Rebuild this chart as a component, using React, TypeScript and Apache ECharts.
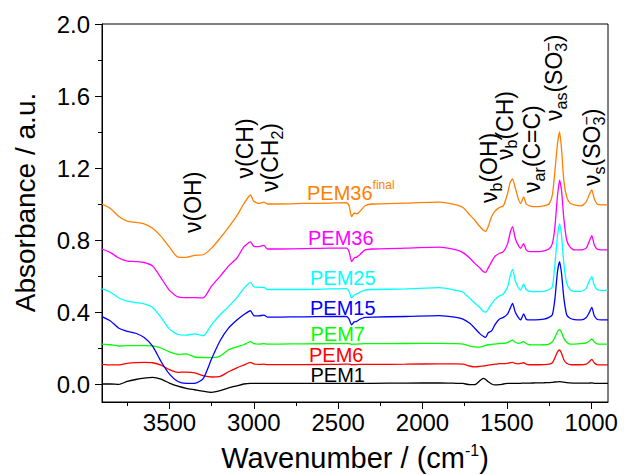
import React, { useEffect, useRef } from 'react';
import * as echarts from 'echarts';

// ---------- data ----------
const WAVENUMBERS = [
  3900, 3850, 3800, 3750, 3700, 3650, 3600, 3550, 3500, 3450, 3400, 3350, 3300, 3250, 3200, 3150, 3100, 3060, 3020, 3000,
  2970, 2940, 2920, 2850, 2700, 2550, 2450, 2435, 2420, 2405, 2390, 2370, 2340, 2300, 2100, 1900, 1800, 1760, 1720, 1690,
  1660, 1640, 1625, 1610, 1590, 1570, 1545, 1520, 1495, 1480, 1466, 1450, 1432, 1418, 1400, 1385, 1365, 1330, 1280, 1250,
  1230, 1215, 1200, 1187, 1175, 1162, 1145, 1125, 1100, 1060, 1030, 1012, 996, 982, 965, 940, 900,
];

const PEM36_FINAL = [
  1.0, 0.975, 0.93, 0.905, 0.898, 0.89, 0.865, 0.82, 0.76, 0.705, 0.704, 0.715, 0.718, 0.755, 0.81, 0.87, 0.935, 1.0, 1.05, 1.015,
  1.003, 1.01, 1.0, 1.0, 1.003, 1.005, 1.007, 0.99, 0.93, 0.95, 0.945, 0.96, 0.99, 1.0, 1.005, 1.01, 0.995, 0.98, 0.94, 0.91,
  0.875, 0.855, 0.848, 0.875, 0.93, 0.96, 0.98, 0.99, 1.06, 1.12, 1.14, 1.09, 1.03, 1.003, 1.04, 1.0, 0.99, 0.985, 0.99, 1.0,
  1.05, 1.18, 1.33, 1.4, 1.3, 1.13, 1.04, 1.005, 0.995, 0.99, 1.01, 1.05, 1.078, 1.03, 1.0, 0.995, 0.995,
];
const PEM36 = [
  0.75, 0.73, 0.7, 0.683, 0.68, 0.675, 0.655, 0.59, 0.52, 0.484, 0.48, 0.48, 0.478, 0.545, 0.598, 0.655, 0.7, 0.76, 0.79, 0.765,
  0.763, 0.77, 0.75, 0.75, 0.752, 0.755, 0.755, 0.735, 0.68, 0.7, 0.705, 0.72, 0.745, 0.75, 0.755, 0.76, 0.745, 0.73, 0.7, 0.67,
  0.645, 0.625, 0.62, 0.645, 0.68, 0.71, 0.725, 0.735, 0.78, 0.84, 0.874, 0.81, 0.77, 0.754, 0.78, 0.745, 0.735, 0.735, 0.74, 0.75,
  0.78, 0.87, 1.04, 1.133, 1.07, 0.92, 0.8, 0.76, 0.745, 0.745, 0.755, 0.79, 0.824, 0.775, 0.75, 0.745, 0.745,
];
const PEM25 = [
  0.528, 0.51, 0.478, 0.46, 0.452, 0.445, 0.425, 0.37, 0.305, 0.275, 0.272, 0.278, 0.268, 0.33, 0.385, 0.43, 0.48, 0.53, 0.565, 0.54,
  0.537, 0.537, 0.525, 0.525, 0.525, 0.528, 0.53, 0.515, 0.478, 0.495, 0.5, 0.51, 0.522, 0.525, 0.528, 0.535, 0.52, 0.51, 0.476, 0.45,
  0.425, 0.405, 0.398, 0.415, 0.445, 0.47, 0.488, 0.5, 0.54, 0.6, 0.637, 0.575, 0.535, 0.522, 0.555, 0.525, 0.515, 0.513, 0.515, 0.525,
  0.54, 0.66, 0.82, 0.89, 0.82, 0.67, 0.56, 0.525, 0.515, 0.515, 0.53, 0.57, 0.596, 0.55, 0.525, 0.52, 0.52,
];
const PEM15 = [
  0.374, 0.35, 0.31, 0.293, 0.282, 0.258, 0.21, 0.125, 0.055, 0.014, 0.004, 0.004, 0.03, 0.14, 0.24, 0.31, 0.355, 0.385, 0.407, 0.38,
  0.378, 0.383, 0.372, 0.372, 0.373, 0.375, 0.375, 0.36, 0.328, 0.345, 0.348, 0.36, 0.37, 0.372, 0.375, 0.38, 0.37, 0.36, 0.337, 0.31,
  0.28, 0.265, 0.259, 0.285, 0.295, 0.33, 0.36, 0.37, 0.39, 0.42, 0.448, 0.4, 0.37, 0.356, 0.39, 0.36, 0.356, 0.356, 0.36, 0.37,
  0.385, 0.47, 0.62, 0.68, 0.61, 0.48, 0.385, 0.365, 0.358, 0.356, 0.368, 0.395, 0.426, 0.38, 0.36, 0.356, 0.356,
];
const PEM7 = [
  0.222, 0.218, 0.211, 0.213, 0.213, 0.213, 0.212, 0.2, 0.178, 0.165, 0.167, 0.15, 0.147, 0.146, 0.155, 0.19, 0.206, 0.218, 0.235, 0.225,
  0.222, 0.224, 0.222, 0.222, 0.223, 0.224, 0.225, 0.224, 0.22, 0.222, 0.222, 0.223, 0.224, 0.224, 0.225, 0.226, 0.224, 0.222, 0.211, 0.206,
  0.205, 0.21, 0.215, 0.218, 0.22, 0.222, 0.225, 0.226, 0.23, 0.238, 0.244, 0.232, 0.226, 0.228, 0.235, 0.225, 0.218, 0.217, 0.218, 0.222,
  0.235, 0.258, 0.29, 0.304, 0.285, 0.255, 0.232, 0.222, 0.222, 0.224, 0.228, 0.238, 0.25, 0.235, 0.223, 0.221, 0.221,
];
const PEM6 = [
  0.109, 0.106, 0.106, 0.115, 0.119, 0.12, 0.118, 0.105, 0.08, 0.065, 0.066, 0.062, 0.046, 0.039, 0.042, 0.068, 0.09, 0.105, 0.12, 0.112,
  0.109, 0.11, 0.108, 0.108, 0.108, 0.109, 0.11, 0.11, 0.107, 0.108, 0.108, 0.109, 0.109, 0.109, 0.11, 0.112, 0.112, 0.11, 0.1, 0.095,
  0.098, 0.1, 0.102, 0.105, 0.108, 0.11, 0.113, 0.113, 0.115, 0.118, 0.12, 0.114, 0.112, 0.114, 0.118, 0.11, 0.107, 0.107, 0.108, 0.11,
  0.118, 0.145, 0.178, 0.189, 0.17, 0.135, 0.115, 0.108, 0.107, 0.107, 0.11, 0.122, 0.137, 0.118, 0.108, 0.106, 0.106,
];
const PEM1 = [
  0.0, 0.0, -0.002, 0.014, 0.025, 0.033, 0.037, 0.027, 0.005, -0.012, -0.024, -0.032, -0.04, -0.046, -0.037, -0.022, -0.01, 0.0, 0.004, 0.004,
  0.004, 0.004, 0.004, 0.004, 0.004, 0.004, 0.004, 0.004, 0.004, 0.004, 0.004, 0.004, 0.004, 0.004, 0.005, 0.006, 0.004, 0.003, -0.004, -0.004,
  0.018, 0.031, 0.025, 0.012, 0.0, -0.005, -0.004, 0.0, 0.003, 0.004, 0.004, 0.004, 0.004, 0.004, 0.005, 0.005, 0.005, 0.006, 0.007, 0.008,
  0.009, 0.011, 0.012, 0.013, 0.012, 0.01, 0.008, 0.006, 0.005, 0.005, 0.005, 0.005, 0.006, 0.004, 0.003, 0.003, 0.003,
];

const SERIES_NAMES = ['PEM1', 'PEM6', 'PEM7', 'PEM15', 'PEM25', 'PEM36', 'PEM36final'];
const SERIES_VALUES = [PEM1, PEM6, PEM7, PEM15, PEM25, PEM36, PEM36_FINAL];
const SERIES_COLORS = ['#000000', '#ff0000', '#00ff00', '#0000ff', '#00ffff', '#ff00ff', '#ff8000'];

const X_TICKS = [1000, 1500, 2000, 2500, 3000, 3500];
const X_MINOR_TICKS = [1250, 1750, 2250, 2750, 3250, 3750];
const Y_TICKS = [0, 0.4, 0.8, 1.2, 1.6, 2.0];
const Y_MINOR_TICKS = [0.2, 0.6, 1.0, 1.4, 1.8];

const X_TITLE = ['Wavenumber / (cm', '-1', ')'];
const Y_TITLE = 'Absorbance / a.u.';

// ---------- text helpers ----------
const FONT = '"Liberation Sans", Arial, Helvetica, sans-serif';
let measureCtx: CanvasRenderingContext2D | null = null;
function measure(t: string, fs: number): number {
  if (!measureCtx) measureCtx = document.createElement('canvas').getContext('2d');
  if (!measureCtx) return t.length * fs * 0.55;
  measureCtx.font = `${fs}px ${FONT}`;
  return measureCtx.measureText(t).width;
}

type Piece = { t: string; fs: number; dy: number; stack?: boolean };

function buildPieces(pieces: Piece[], color: string) {
  let x = 0;
  let stackW = 0;
  const children: any[] = [];
  for (const p of pieces) {
    const w = measure(p.t, p.fs);
    children.push({
      type: 'text',
      x,
      y: p.dy - 0.3465 * p.fs,
      silent: true,
      style: {
        text: p.t,
        fill: color,
        fontSize: p.fs,
        fontFamily: FONT,
        align: 'left',
        verticalAlign: 'middle',
        textAlign: 'left',
        textVerticalAlign: 'middle',
      },
    });
    if (p.stack) {
      stackW = Math.max(stackW, w);
    } else {
      x += Math.max(w, stackW);
      stackW = 0;
    }
  }
  return { children, width: x };
}

const AF = 23; // annotation font size
const SF = 16; // subscript font size
const main = (t: string): Piece => ({ t, fs: AF, dy: 0 });
const sub = (t: string, stack = false): Piece => ({ t, fs: SF, dy: 5, stack });
const sup = (t: string): Piece => ({ t, fs: SF, dy: -8 });

const ANNOTATIONS: { bx: number; sy: number; pieces: Piece[] }[] = [
  { bx: 200.5, sy: 233, pieces: [main('ν(OH)')] },
  { bx: 252.5, sy: 178.5, pieces: [main('ν(CH)')] },
  { bx: 278, sy: 192, pieces: [main('ν(CH'), sub('2'), main(')')] },
  { bx: 497, sy: 203, pieces: [main('ν'), sub('b'), main('(OH)')] },
  { bx: 512.5, sy: 160, pieces: [main('ν'), sub('b'), main('(CH)')] },
  { bx: 540, sy: 193, pieces: [main('ν'), sub('ar'), main('(C=C)')] },
  { bx: 562, sy: 121, pieces: [main('ν'), sub('as'), main('(SO'), sub('3', true), sup('−'), main(')')] },
  { bx: 600, sy: 186, pieces: [main('ν'), sub('s'), main('(SO'), sub('3', true), sup('−'), main(')')] },
];

const LABEL_POS: { x: number; y: number }[] = [
  { x: 310.5, y: 381.5 },
  { x: 309, y: 361.5 },
  { x: 310.5, y: 340.5 },
  { x: 310, y: 315 },
  { x: 310, y: 284.5 },
  { x: 308, y: 244.5 },
  { x: 307, y: 200 },
];

function buildGraphics() {
  const g: any[] = [];
  SERIES_NAMES.forEach((name, i) => {
    const color = SERIES_COLORS[i];
    const pieces: Piece[] =
      name === 'PEM36final'
        ? [{ t: 'PEM36', fs: 20, dy: 0 }, { t: 'final', fs: 12, dy: -11 }]
        : [{ t: name, fs: 20, dy: 0 }];
    const { children } = buildPieces(pieces, color);
    g.push({ type: 'group', x: LABEL_POS[i].x, y: LABEL_POS[i].y, children });
  });
  ANNOTATIONS.forEach((a) => {
    const { children } = buildPieces(a.pieces, '#000');
    g.push({ type: 'group', x: a.bx, y: a.sy, rotation: Math.PI / 2, children });
  });
  {
    const { children, width } = buildPieces(
      [
        { t: X_TITLE[0], fs: 29, dy: 0 },
        { t: X_TITLE[1], fs: 16, dy: -12 },
        { t: X_TITLE[2], fs: 29, dy: 0 },
      ],
      '#000'
    );
    g.push({ type: 'group', x: 355 - width / 2, y: 468, children });
  }
  {
    const { children, width } = buildPieces([{ t: Y_TITLE, fs: 28, dy: 0 }], '#000');
    g.push({ type: 'group', x: 35, y: 202.5 + width / 2, rotation: Math.PI / 2, children });
  }
  return g;
}

export default function App() {
  const ref = useRef<HTMLDivElement>(null);
  useEffect(() => {
    if (!ref.current) return;
    const chart = echarts.init(ref.current, undefined, { renderer: 'svg' });
    const axisFont = { fontSize: 24, color: '#000', fontFamily: FONT };
    const xCommon = { type: 'value', min: 900, max: 3900, inverse: true, position: 'bottom', splitLine: { show: false } };
    const yCommon = { type: 'value', min: -0.1, max: 2.0, position: 'left', splitLine: { show: false } };
    chart.setOption({
      animation: false,
      backgroundColor: '#fff',
      grid: { left: 102, top: 24, width: 506, height: 378, show: true, borderColor: '#000', borderWidth: 1, backgroundColor: 'transparent' },
      xAxis: [
        {
          ...xCommon,
          axisLine: { show: true, onZero: false, lineStyle: { color: '#000', width: 1 } },
          axisTick: { show: true, inside: false, length: 7, customValues: X_TICKS, lineStyle: { color: '#000', width: 1 } },
          axisLabel: { ...axisFont, margin: 8, customValues: X_TICKS, formatter: (v: number) => String(v) },
        },
        {
          ...xCommon,
          axisLine: { show: false, onZero: false },
          axisTick: { show: true, inside: false, length: 4, customValues: X_MINOR_TICKS, lineStyle: { color: '#000', width: 1 } },
          axisLabel: { show: false },
        },
      ],
      yAxis: [
        {
          ...yCommon,
          axisLine: { show: true, onZero: false, lineStyle: { color: '#000', width: 1 } },
          axisTick: { show: true, inside: false, length: 7, customValues: Y_TICKS, lineStyle: { color: '#000', width: 1 } },
          axisLabel: { ...axisFont, margin: 12, customValues: Y_TICKS, formatter: (v: number) => v.toFixed(1) },
        },
        {
          ...yCommon,
          axisLine: { show: false, onZero: false },
          axisTick: { show: true, inside: false, length: 4, customValues: Y_MINOR_TICKS, lineStyle: { color: '#000', width: 1 } },
          axisLabel: { show: false },
        },
      ],
      series: SERIES_NAMES.map((name, i) => ({
        name,
        type: 'line',
        xAxisIndex: 0,
        yAxisIndex: 0,
        showSymbol: false,
        symbol: 'none',
        smooth: 0.2,
        lineStyle: { color: SERIES_COLORS[i], width: 1.3 },
        itemStyle: { color: SERIES_COLORS[i] },
        data: WAVENUMBERS.map((w, j) => [w, SERIES_VALUES[i][j]]),
      })),
      graphic: buildGraphics(),
    });
    return () => chart.dispose();
  }, []);
  return <div ref={ref} style={{ position: 'fixed', left: 0, top: 0, width: 625, height: 474, background: '#fff' }} />;
}
